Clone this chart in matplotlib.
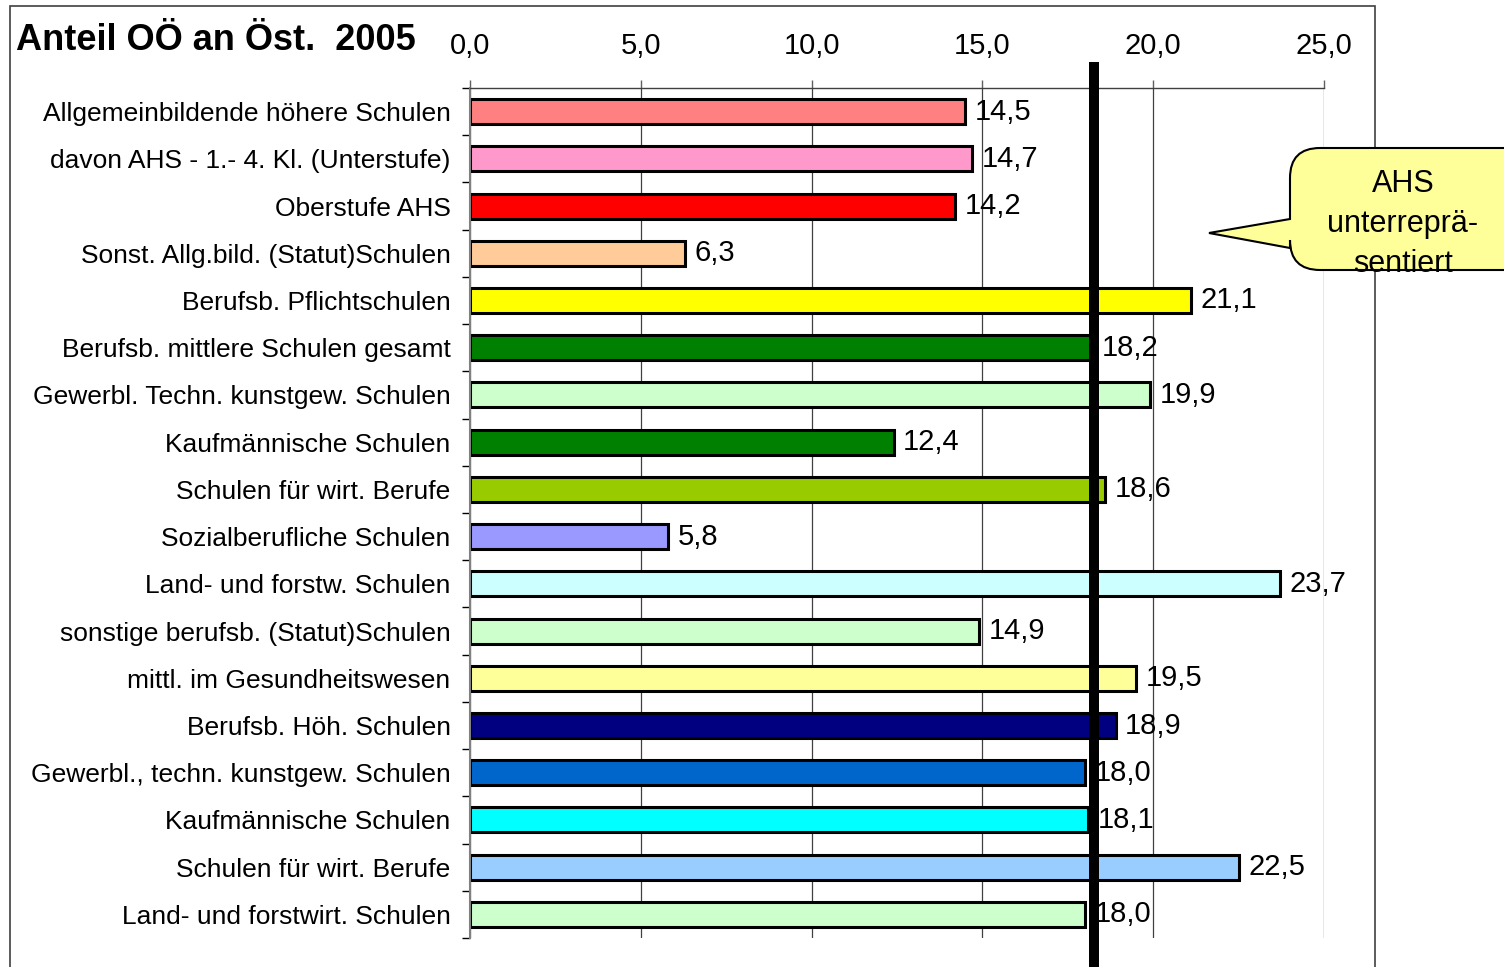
import matplotlib
matplotlib.use("Agg")
import matplotlib.pyplot as plt
from matplotlib.path import Path
from matplotlib.patches import PathPatch, Rectangle
import numpy as np

plt.rcParams['font.family'] = ['Liberation Sans', 'DejaVu Sans']

categories = [
    "Allgemeinbildende höhere Schulen",
    "davon AHS - 1.- 4. Kl. (Unterstufe)",
    "Oberstufe AHS",
    "Sonst. Allg.bild. (Statut)Schulen",
    "Berufsb. Pflichtschulen",
    "Berufsb. mittlere Schulen gesamt",
    "Gewerbl. Techn. kunstgew. Schulen",
    "Kaufmännische Schulen",
    "Schulen für wirt. Berufe",
    "Sozialberufliche Schulen",
    "Land- und forstw. Schulen",
    "sonstige berufsb. (Statut)Schulen",
    "mittl. im Gesundheitswesen",
    "Berufsb. Höh. Schulen",
    "Gewerbl., techn. kunstgew. Schulen",
    "Kaufmännische Schulen",
    "Schulen für wirt. Berufe",
    "Land- und forstwirt. Schulen",
]
values = [14.5, 14.7, 14.2, 6.3, 21.1, 18.2, 19.9, 12.4, 18.6, 5.8,
          23.7, 14.9, 19.5, 18.9, 18.0, 18.1, 22.5, 18.0]
colors = ["#FF8080", "#FF99CC", "#FF0000", "#FFCC99", "#FFFF00", "#008000",
          "#CCFFCC", "#008000", "#99CC00", "#9999FF", "#CCFFFF", "#CCFFCC",
          "#FFFF99", "#000080", "#0066CC", "#00FFFF", "#99CCFF", "#CCFFCC"]
xticks = [0, 5, 10, 15, 20, 25]
xticklabels = ["0,0", "5,0", "10,0", "15,0", "20,0", "25,0"]
ref_value = 18.27
title = "Anteil OÖ an Öst.  2005"
callout_text = "AHS\nunterreprä-\nsentiert"

W, H = 1504, 967
fig = plt.figure(figsize=(W / 100, H / 100), dpi=100)

def fx(px):
    return px / W

def fy(py):
    return 1 - py / H

# outer frame
fig.add_artist(Rectangle((fx(10), fy(1000)), fx(1375) - fx(10), fy(6) - fy(1000),
                         transform=fig.transFigure, fill=False, edgecolor="#404040",
                         linewidth=1.2, clip_on=False))

ax = fig.add_axes([fx(470), fy(938), fx(1324) - fx(470), fy(88) - fy(938)])
n = len(categories)
y = np.arange(n)
# shadow
ax.barh(y + 0.04, values, height=0.53, left=0.06, color="#C8C8C8", edgecolor="none", zorder=1.5)
ax.barh(y, values, height=0.53, color=colors, edgecolor="black", linewidth=2.2, zorder=2)
ax.set_ylim(n - 0.5, -0.5)
ax.set_xlim(0, 25)

ax.xaxis.tick_top()
ax.set_xticks(xticks)
ax.set_xticklabels(xticklabels, fontsize=21)
ax.tick_params(axis="x", direction="out", length=6, width=1, color="#606060", pad=14)
ax.set_yticks(y)
ax.set_yticklabels(categories, fontsize=19)
ax.set_yticks(np.arange(n + 1) - 0.5, minor=True)
ax.tick_params(axis="y", which="major", length=0, pad=14)
ax.tick_params(axis="y", which="minor", direction="out", length=6, width=1, color="black")
ax.grid(axis="x", color="#404040", linewidth=0.9, zorder=0)
ax.set_axisbelow(True)
for s in ["right", "bottom"]:
    ax.spines[s].set_visible(False)
ax.spines["top"].set_color("#404040")
ax.spines["top"].set_linewidth(1)
ax.spines["left"].set_color("#808080")
ax.spines["left"].set_linewidth(1.5)

for yi, v in zip(y, values):
    ax.text(v + 0.28, yi, f"{v:.1f}".replace(".", ","), va="center", ha="left",
            fontsize=21, zorder=4)

# reference line
ax.axvline(ref_value, ymin=(938 - 967) / 850, ymax=(938 - 62) / 850, color="black",
           linewidth=7.2, clip_on=False, zorder=5, solid_capstyle="butt")

fig.text(fx(16), fy(40), title, fontsize=26, fontweight="bold", ha="left", va="center")

# callout
x0, x1, y0, y1, r = 1290, 1560, 148, 270, 30
tip = (1209, 233)
pts = [
    ((x0, y0 + r), Path.MOVETO),
    ((x0, 219), Path.LINETO),
    (tip, Path.LINETO),
    ((x0, 248), Path.LINETO),
    ((x0, y1 - r), Path.LINETO),
    ((x0, y1), Path.CURVE3), ((x0 + r, y1), Path.CURVE3),
    ((x1 - r, y1), Path.LINETO),
    ((x1, y1), Path.CURVE3), ((x1, y1 - r), Path.CURVE3),
    ((x1, y0 + r), Path.LINETO),
    ((x1, y0), Path.CURVE3), ((x1 - r, y0), Path.CURVE3),
    ((x0 + r, y0), Path.LINETO),
    ((x0, y0), Path.CURVE3), ((x0, y0 + r), Path.CURVE3),
    ((x0, y0 + r), Path.CLOSEPOLY),
]
verts = [(fx(p[0]), fy(p[1])) for p, _ in pts]
codes = [c for _, c in pts]
callout = PathPatch(Path(verts, codes), facecolor="#FFFF99", edgecolor="black",
                    linewidth=1.5, transform=fig.transFigure, zorder=10)
fig.add_artist(callout)
t = fig.text(fx(1403), fy(224), callout_text, fontsize=22, ha="center", va="center",
             linespacing=1.45, zorder=11)
t.set_clip_path(callout)

fig.savefig("out.png", dpi=100)
